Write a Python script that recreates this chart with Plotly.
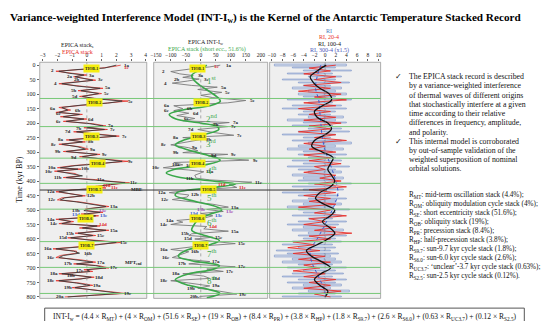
import plotly.graph_objects as go

W, H = 550, 321
FONT = "Liberation Serif, Times New Roman, serif"

# ---------------- data ----------------
time_ticks = list(range(0, 801, 50))
p1_ticks = [-3, -2, -1, 0, 1, 2, 3, 4]
p2_ticks = [-150, -100, -50, 0, 50, 100, 150, 200]
p3_ticks = [-10, -8, -6, -4, -2, 0, 2, 4, 6, 8, 10]

# Panel 1: EPICA stack (smoothed, black) and raw (red)
stack_t = [0,4,10,15,21,28,34,40,46,52, 58,64,72,80,88,98,108,116,124,131,
           138,146,155,163,170,178,186,194,202,210, 216,222,230,238,245,252,258,265,273,282,
           290,298,308,316,324,332,340,347,354,359, 366,374,382,388,395,400,406,412,418,424,
           431,437,444,451,458,465,472,480,488,496, 502,508,514,520,526,532,540,547,555,562,
           570,580,588,596,604,612,620,627,634,642, 649,657,664,672,680,686,692,700,706,712,
           720,726,732,738,744,752,760,768,775,782, 788,794,800]
stack_s = [2.0,1.7,1.2,-0.6,-1.9,-1.2,-0.2,-0.8,-0.3,0.4, -0.6,-1.7,-0.7,0.9,-0.4,0.8,-0.3,0.6,2.4,1.4,
           -0.4,-1.7,-1.3,-1.9,-0.5,-1.6,-0.2,-1.4,0.2,1.1, 0.0,1.2,-0.7,0.5,2.0,0.3,-1.2,-0.3,-1.7,-0.6,
           -0.1,-1.4,0.7,-0.3,1.0,2.4,0.9,-0.8,-1.8,-0.6, -2.0,-1.0,-0.3,-1.4,0.4,1.2,2.6,1.6,0.8,1.0,
           -1.0,-1.9,-1.2,-0.3,-1.5,-1.8,-0.7,0.2,1.3,0.1, -0.2,0.9,-0.2,0.6,-0.1,-1.9,-1.1,-1.7,0.7,-0.3,
           1.3,-0.6,0.4,-1.1,0.2,2.0,0.6,-0.4,-2.1,-0.9, -0.5,-1.6,-1.9,-0.6,0.4,-0.7,0.6,1.3,0.0,0.2,
           -1.7,-0.6,0.3,-0.4,-1.9,-0.7,0.2,-0.8,0.3,1.4, 2.3,0.5,-1.3]
stack_raw = [2.3,1.9,1.0,-0.8,-2.1,-1.0,0.0,-0.9,-0.1,0.6, -0.8,-1.9,-0.5,1.1,-0.6,1.0,-0.5,0.8,2.8,1.2,
             -0.6,-1.9,-1.1,-2.1,-0.3,-1.8,0.0,-1.6,0.4,1.3, -0.2,1.4,-0.9,0.7,2.2,0.1,-1.4,-0.1,-1.9,-0.4,
             0.1,-1.6,0.9,-0.5,1.2,2.8,0.7,-1.0,-2.0,-0.4, -2.2,-0.8,-0.5,-1.6,0.6,1.4,2.9,1.8,0.6,1.3,
             -1.2,-2.1,-1.0,-0.1,-1.7,-2.0,-0.5,0.4,1.5,-0.1, 0.0,1.1,-0.4,0.8,-0.3,-2.1,-0.9,-1.9,0.9,-0.5,
             1.5,-0.8,0.6,-1.3,0.4,2.3,0.4,-0.6,-2.3,-0.7, -0.7,-1.8,-2.1,-0.4,0.6,-0.9,0.8,1.5,-0.2,0.4,
             -1.9,-0.4,0.5,-0.6,-2.1,-0.5,0.4,-1.0,0.5,1.6, 2.6,0.3,-1.5]

# Panel 2: INT-Iw (gray) and short eccentricity stack (green)
int_t = [0,6,14,22,30,36,42,48,55,62, 70,76,84,94,104,112,122,130,140,150,
         157,166,174,184,192,198,205,212,222,232, 242,250,256,265,275,285,295,302,308,313,
         320,328,336,344,354,362,368,380,390,396, 404,412,422,432,440,448,455,464,472,480,
         490,498,505,512,520,528,536,542,550,557, 565,573,582,588,594,600,608,616,626,636,
         644,652,664,672,678,686,696,704,712,720, 728,736,744,752,762,770,778,790,798,803]
int_v = [65,30,-40,-100,-70,-25,-60,-5,-45,-95, -30,55,-10,70,0,40,150,90,-90,-60,
         -90,-40,-80,-20,-60,95,30,90,-10,40, 110,-60,5,-40,-100,-40,-10,-60,90,25,
         60,160,-90,-60,-125,-40,10,-20,-15,30, 170,95,120,-40,-105,-40,-45,-95,-30,40,
         92,20,75,0,40,10,-80,-60,-100,20, 10,92,-30,-40,40,-20,40,115,-20,-100,
         -40,-60,-95,-30,30,-40,115,20,75,-60, 10,30,-100,-40,30,-10,50,120,0,-10]
ecc_t = [0,15,35,55,75,95,115,125,140,155, 170,185,200,212,222,240,260,275,290,310,
         328,345,360,372,385,400,410,420,440,450, 470,490,500,515,535,555,570,590,605,620,
         640,660,675,692,705,720,740,760,775,788, 803]
ecc_v = [20,0,-30,-20,5,35,60,65,30,-60, -105,-85,0,55,60,10,-60,-85,-50,20,
         65,10,-90,-115,-80,40,115,60,-80,-85, -20,55,70,30,-10,-25,-30,20,62,30,
         -50,-75,-30,62,40,-40,-85,-40,30,64, 20]

# Panel 3: RI bars (left/right extents), RI 20-4, RI 100-4, RI 300-4 (x1.5)
ri_t = list(range(0, 801, 10))
ri_lo = [-9.5,-6,-4,-7,-3,-8,-5,-4,-6,-3,-5,
         -4,-7,-3,-6,-8,-4,-5,-3,-7,-4,
         -6,-3,-5,-8,-4,-6,-3,-5,-7,-4,
         -5,-3,-6,-4,-7,-5,-3,-6,-4,-5,
         -3,-6,-4,-8,-5,-3,-6,-4,-7,-5,
         -4,-6,-3,-5,-7,-4,-6,-3,-5,-4,
         -6,-8,-5,-9,-7,-9.5,-6,-8,-5,-7,
         -4,-6,-8,-5,-7,-4,-6,-3,-5,-8]
ri_hi = [4,2,5,1.5,3,2,4.5,1,3,2,4,
         2,5,1.5,3,4,2,1,3.5,2,4,
         1.5,3,4.5,2,1,3,5,2,3.5,1.5,
         4,2,3,1.5,4.5,2,3,1,3.5,2,
         5,2,3.5,1,2.5,4,2,3,1.5,4.5,
         2,3,1.5,4,2.5,1,3.5,2,4,2,
         3,1.5,2,1,2.5,1,2,3,1.5,4,
         2,3.5,1.5,4,2,3,1,4.5,2,3]
ri20 = [2,-3,1,-4,2,-2,3,-4,1,-5,3,
        -2,4,-4,2,-5,1,-3,2,-4,3,
        -3,1,-5,2,-2,4,-4,0,-3,2,
        -4,1,-3,3,-2,0,-4,2,-1,3,
        -2,4,-3,2,-4,1,-3,2,-5,1,
        -2,4,-3,0,-4,2,-2,5,-3,1,
        -6,-2,-7,-1,-6,0,-5,1,-4,-1,
        -6,0,-4,2,-3,1,-4,3,-2,1]
ri100_t = list(range(0, 801, 20))
ri100 = [0.2,-1.5,-2.8,-2.2,-1.0,0.8,1.2,-0.5,-2.0,-1.5,0.5,1.2,0.0,-2.0,-2.5,-0.5,1.5,1.0,0.5,1.2,
         1.8,1.0,-1.0,-1.8,-0.2,1.8,1.0,-0.5,0.8,1.8,0.5,-1.5,-3.5,-2.5,-0.5,1.0,-0.8,-2.0,-1.0,0.5,0.0]
ri300_t = list(range(0, 801, 40))
ri300 = [-0.8,-1.5,-1.8,-1.2,-1.0,-0.8,-0.6,-0.2,0.5,1.3,2.0,2.4,1.8,0.8,-0.3,-1.5,-2.8,-2.5,-1.5,-0.5,0.2]

# Reference lines / labels
cycle_bounds = [115, 212, 321, 408, 497, 609, 698, 788]
mbe_t = 431
tiob_t = [12, 129, 245, 340, 428, 529, 624]
tiob_p1 = [0.3, 0.55, 0.3, 0.75, 0.55, -0.1, 0.0]
tiob_p2 = [-10, 2, -8, -12, 26, -12, -1]
cyc_t = [52, 184, 267, 361, 455, 540, 647, 743]
cyc_txt = ["1<sup>st</sup>", "2<sup>nd</sup>", "3<sup>rd</sup>", "4<sup>th</sup>",
           "5<sup>th</sup>", "6<sup>th</sup>", "7<sup>th</sup>", "8<sup>th</sup>"]

p1_lab = [("1a",0,2.75,"k"),("1c",7,2.75,"r"),("2",20,-2.35,"k"),("2a",40,-1.15,"k"),("3a",36,0.35,"k"),
          ("2b",48,-0.7,"k"),("3c",50,0.95,"k"),("4",62,-2.1,"k"),("5a",78,1.45,"k"),("5b",88,-0.9,"k"),
          ("5c",98,1.35,"k"),("5d",108,-0.8,"k"),("5e",124,3.0,"k"),
          ("6a",148,-2.3,"k"),("6b",156,-0.6,"k"),("6c",168,-1.9,"k"),("6d",186,0.3,"k"),("6e",196,-1.9,"k"),
          ("7a",208,1.65,"k"),("7b",217,-0.5,"k"),("7c",222,1.75,"k"),("7d",230,-1.25,"k"),("7e",245,2.6,"k"),
          ("8a",258,-1.75,"k"),("8b",265,0.25,"k"),("8c",275,-2.2,"k"),("9a",290,0.45,"k"),("9b",298,-1.95,"k"),
          ("9c",310,1.25,"k"),("9d",318,-0.85,"k"),("9e",332,3.0,"k"),
          ("10a",352,-2.35,"k"),("10b",358,-0.1,"k"),("10c",366,-2.55,"k"),("11b",388,-1.95,"k"),("11a",396,0.95,"k"),
          ("11c",406,3.2,"k"),("11d",417,1.4,"r"),("11e",424,1.9,"r"),("MBE",430,3.4,"k"),
          ("12a",437,-2.45,"k"),("12b",451,0.25,"k"),("12c",462,-2.35,"k"),("13a",488,1.85,"k"),
          ("13b",500,-0.75,"k"),("13c",503,1.1,"p"),("13d",514,-0.75,"b"),("13e",520,1.15,"b"),
          ("14a",532,-2.45,"k"),("14c",547,-2.25,"k"),("14d",551,1.1,"r"),("15a",570,1.85,"k"),
          ("15b",582,-1.15,"k"),("15d",596,-1.65,"k"),("15c",588,0.95,"k"),("15e",612,2.55,"k"),
          ("16a",634,-2.65,"k"),("16b",649,0.05,"k"),("16c",664,-2.45,"k"),("17b",686,-1.25,"k"),("17a",680,0.95,"k"),
          ("MPT<sub>end</sub>",684,3.2,"k"),("17c",700,1.85,"k"),("17e",708,-0.45,"k"),("18a",720,-2.25,"k"),
          ("18b",726,-1.1,"k"),("18d",734,0.8,"k"),("18e",744,-2.45,"k"),("19a",760,0.7,"k"),("19b",768,-1.3,"k"),
          ("19c",788,2.8,"k"),("20a",798,-1.8,"k")]
p2_lab = [("1a",0,95,"k"),("1c",6,55,"r"),("2",22,-125,"k"),("3a",36,0,"k"),("2b",48,-80,"k"),("3c",48,20,"k"),
          ("4",62,-118,"k"),("5a",76,78,"k"),("5c",94,92,"k"),("5e",122,175,"k"),
          ("6a",140,-112,"k"),("6b",150,-35,"k"),("6c",157,-112,"k"),("6d",166,-15,"k"),("6e",184,-45,"k"),
          ("7a",198,118,"k"),("7b",205,52,"k"),("7c",212,112,"k"),("7d",222,-32,"k"),("7e",242,132,"k"),
          ("8a",250,-83,"k"),("8b",256,27,"k"),("8c",275,-122,"k"),("9a",285,-20,"k"),("9b",302,-83,"k"),
          ("9c",308,112,"k"),("9d",313,45,"k"),("9e",328,185,"k"),
          ("10a",344,-83,"k"),("10b",348,-35,"k"),("10c",354,-148,"k"),("11a",368,32,"k"),("11b",390,-37,"k"),
          ("11c",404,194,"k"),("11d",412,72,"r"),("11e",422,142,"r"),
          ("12a",440,-128,"k"),("12b",448,-18,"k"),("12c",464,-118,"k"),("13a",490,114,"k"),("13b",498,0,"p"),
          ("13c",505,97,"p"),("13d",512,-22,"b"),("13e",520,62,"b"),("14a",536,-102,"k"),("14c",550,-122,"k"),
          ("14d",557,42,"r"),("15a",573,114,"k"),("15b",582,-52,"k"),("15d",600,-42,"k"),("15c",594,62,"k"),
          ("15e",616,137,"k"),("16a",636,-122,"k"),("16b",644,-18,"k"),("16c",664,-117,"k"),("17b",686,-62,"k"),
          ("17a",678,52,"k"),("17c",696,137,"k"),("17e",712,97,"k"),("18a",720,-82,"k"),("18d",736,52,"k"),
          ("18c",744,-122,"k"),("19a",762,52,"k"),("19b",770,-32,"k"),("19c",790,142,"k"),("20b",798,-22,"k")]

bullet1 = ["The EPICA stack record is described", "by a variance-weighted interference",
           "of thermal waves of different origins", "that stochastically interfere at a given",
           "time according to their relative", "differences in frequency, amplitude,", "and polarity."]
bullet2 = ["This internal model is corroborated", "by out-of-sample validation of the",
           "weighted superposition of nominal", "orbital solutions."]
r_list = ["R<sub>MT</sub>: mid-term oscillation stack (4.4%);",
          "R<sub>OM</sub>: obliquity modulation cycle stack (4%);",
          "R<sub>SE</sub>: short eccentricity stack (51.6%);",
          "R<sub>OB</sub>: obliquity stack (19%);",
          "R<sub>PR</sub>: precession stack (8.4%);",
          "R<sub>HP</sub>: half-precession stack (3.8%);",
          "R<sub>S9.7</sub>: sun-9.7 kyr cycle stack (1.8%);",
          "R<sub>S6.0</sub>: sun-6.0 kyr cycle stack (2.6%);",
          "R<sub>UC3.7</sub>: \u2018unclear\u2019-3.7 kyr cycle stack (0.63%);",
          "R<sub>S2.5</sub>: sun-2.5 kyr cycle stack (0.12%)."]
equation = ("INT-I<sub>w</sub> = (4.4 \u00d7 R<sub>MT</sub>) + (4 \u00d7 R<sub>OM</sub>) + "
            "(51.6 \u00d7 R<sub>SE</sub>) + (19 \u00d7 R<sub>OB</sub>) + (8.4 \u00d7 R<sub>PR</sub>) + "
            "(3.8 \u00d7 R<sub>HP</sub>) + (1.8 \u00d7 R<sub>S9.7</sub>) + (2.6 \u00d7 R<sub>S6.0</sub>) + "
            "(0.63 \u00d7 R<sub>UC3.7</sub>) + (0.12 \u00d7 R<sub>S2.5</sub>)")

# ---------------- helpers ----------------
def fx(p):
    return p / W

def fy(p):
    return 1 - p / H

COL = {"k": "#222222", "r": "#e02424", "p": "#9a3fb0", "b": "#2f4fc8"}
RED = "#e8302a"
GREEN = "#3aa84a"
GLINE = "#78c878"

fig = go.Figure()

# Panel 1
fig.add_trace(go.Scatter(x=stack_raw, y=stack_t, mode="lines", xaxis="x", yaxis="y",
                         line=dict(color=RED, width=0.8)))
fig.add_trace(go.Scatter(x=stack_s, y=stack_t, mode="lines", xaxis="x", yaxis="y",
                         line=dict(color="#3a3a3a", width=0.9)))
# Panel 2
fig.add_trace(go.Scatter(x=int_v, y=int_t, mode="lines", xaxis="x2", yaxis="y",
                         line=dict(color="#7a7a7a", width=0.9)))
fig.add_trace(go.Scatter(x=ecc_v, y=ecc_t, mode="lines", xaxis="x2", yaxis="y", line_shape="spline",
                         line=dict(color=GREEN, width=1.6)))
# Panel 3
for vals in (ri_lo, ri_hi):
    fig.add_trace(go.Bar(x=vals, y=ri_t, orientation="h", xaxis="x3", yaxis="y", width=4.5,
                         marker=dict(color="rgba(205,214,232,0.85)", line=dict(color="#6a86c0", width=0.5))))
fig.add_trace(go.Scatter(x=ri20, y=ri_t, mode="lines", xaxis="x3", yaxis="y",
                         line=dict(color=RED, width=0.9)))
fig.add_trace(go.Scatter(x=ri300, y=ri300_t, mode="lines", xaxis="x3", yaxis="y", line_shape="spline",
                         line=dict(color="#3b5bd0", width=1, dash="dot")))
fig.add_trace(go.Scatter(x=ri100, y=ri100_t, mode="lines", xaxis="x3", yaxis="y", line_shape="spline",
                         line=dict(color="#111111", width=1.3)))

ax_common = dict(side="top", anchor="y", ticks="outside", ticklen=2, tickwidth=0.6, tickcolor="#666",
                 tickfont=dict(family=FONT, size=5.5, color="#222"), showgrid=False, zeroline=False,
                 showline=False, fixedrange=True)
fig.update_layout(
    width=W, height=H, margin=dict(l=0, r=0, t=0, b=0),
    paper_bgcolor="white", plot_bgcolor="#efefef", showlegend=False, barmode="relative", bargap=0,
    xaxis=dict(domain=[fx(28), fx(136)], range=[-3.2, 4.07], tickvals=p1_ticks, **ax_common),
    xaxis2=dict(domain=[fx(143), fx(258)], range=[-157, 223], tickvals=p2_ticks, **ax_common),
    xaxis3=dict(domain=[fx(260), fx(372)], range=[-10.4, 10.4], tickvals=p3_ticks, **ax_common),
    yaxis=dict(domain=[fy(292.2), fy(54.6)], range=[805, -10], anchor="x", tickvals=time_ticks,
               ticks="outside", ticklen=2, tickwidth=0.6, tickcolor="#666",
               tickfont=dict(family=FONT, size=6, color="#222"), showgrid=False, zeroline=False,
               showline=False),
)

shapes = []
for ax in ("x", "x2", "x3"):
    shapes.append(dict(type="line", xref=ax, x0=0, x1=0, yref="y domain", y0=0, y1=1,
                       line=dict(color="#8a8a8a", width=0.7, dash="dot"), layer="above"))
    shapes.append(dict(type="rect", xref=f"{ax} domain", x0=0, x1=1, yref="y domain", y0=0, y1=1,
                       line=dict(color="#8c8c8c", width=0.7), layer="above"))
for t in cycle_bounds:
    shapes.append(dict(type="line", xref="paper", x0=fx(28), x1=fx(372), yref="y", y0=t, y1=t,
                       line=dict(color=GLINE, width=1), layer="above"))
shapes.append(dict(type="line", xref="paper", x0=fx(28), x1=fx(318), yref="y", y0=mbe_t, y1=mbe_t,
                   line=dict(color="#333333", width=1), layer="above"))
# equation box
shapes.append(dict(type="rect", xref="paper", yref="paper", x0=fx(33), x1=fx(517), y0=fy(319), y1=fy(302),
                   line=dict(color="#555555", width=1)))
fig.update_layout(shapes=shapes)

anns = []

def ann(x, y, text, size, color="#111", xanchor="left", **kw):
    anns.append(dict(x=fx(x), y=fy(y), xref="paper", yref="paper", text=text, showarrow=False,
                     xanchor=xanchor, yanchor="middle", font=dict(family=FONT, size=size, color=color),
                     borderpad=0, **kw))

# Title
ann(256, 10.5, "<b>Variance-weighted Interference Model (INT-I<sub>w</sub>) is the Kernel of the "
               "Antarctic Temperature Stacked Record</b>", 11.2, "#000", "center")
# Panel titles
ann(66, 38, "EPICA stack<sub>s</sub>", 6, "#222", "center")
ann(66, 44.5, "EPICA stack", 6, RED, "center")
ann(195, 35, "EPICA INT-I<sub>w</sub>", 6, "#222", "center")
ann(197, 41.5, "EPICA stack (short ecc., 51.6%)", 6, GREEN, "center")
ann(320, 22.7, "RI", 6, "#4a78c0", "center")
ann(320, 29.3, "RI, 20-4", 6, RED, "center")
ann(320, 36, "RI, 100-4", 6, "#111", "center")
ann(320, 43, "RI, 300-4 (x1.5)", 6, "#4a55b8", "center")
# Y title
anns.append(dict(x=fx(8), y=fy(172), xref="paper", yref="paper", text="Time (kyr BP)", showarrow=False,
                 textangle=-90, xanchor="center", yanchor="middle",
                 font=dict(family=FONT, size=8, color="#111")))

# Right text
y0, dy = 69, 9.3
ann(386, y0, "\u2713", 7.5, "#111")
for i, line in enumerate(bullet1):
    ann(400, y0 + i * dy, line, 7.8)
yb = y0 + len(bullet1) * dy
ann(386, yb, "\u2713", 7.5, "#111")
for i, line in enumerate(bullet2):
    ann(400, yb + i * dy, line, 7.8)
for i, line in enumerate(r_list):
    ann(400, 189 + i * 9.0, line, 7.2)

# Equation text
ann(275, 310.5, equation, 7.5, "#111", "center")

# Panel labels
LS = 5
for txt, t, v, c in p1_lab:
    anns.append(dict(x=v, y=t, xref="x", yref="y", text=f"<b>{txt}</b>", showarrow=False,
                     font=dict(family=FONT, size=LS, color=COL[c])))
for txt, t, v, c in p2_lab:
    anns.append(dict(x=v, y=t, xref="x2", yref="y", text=f"<b>{txt}</b>", showarrow=False,
                     font=dict(family=FONT, size=LS, color=COL[c])))
for i, t in enumerate(tiob_t):
    for ax, v in (("x", tiob_p1[i]), ("x2", tiob_p2[i])):
        anns.append(dict(x=v, y=t, xref=ax, yref="y", text=f"<b>TIOB-{i+1}</b>", showarrow=False,
                         bgcolor="#f5ee10", borderpad=1, font=dict(family=FONT, size=4, color="#222")))
for t, txt in zip(cyc_t, cyc_txt):
    anns.append(dict(x=37, y=t, xref="x2", yref="y", text=txt, showarrow=False,
                     font=dict(family=FONT, size=9, color=GREEN)))

fig.update_layout(annotations=anns)
fig.write_html("out.html")
